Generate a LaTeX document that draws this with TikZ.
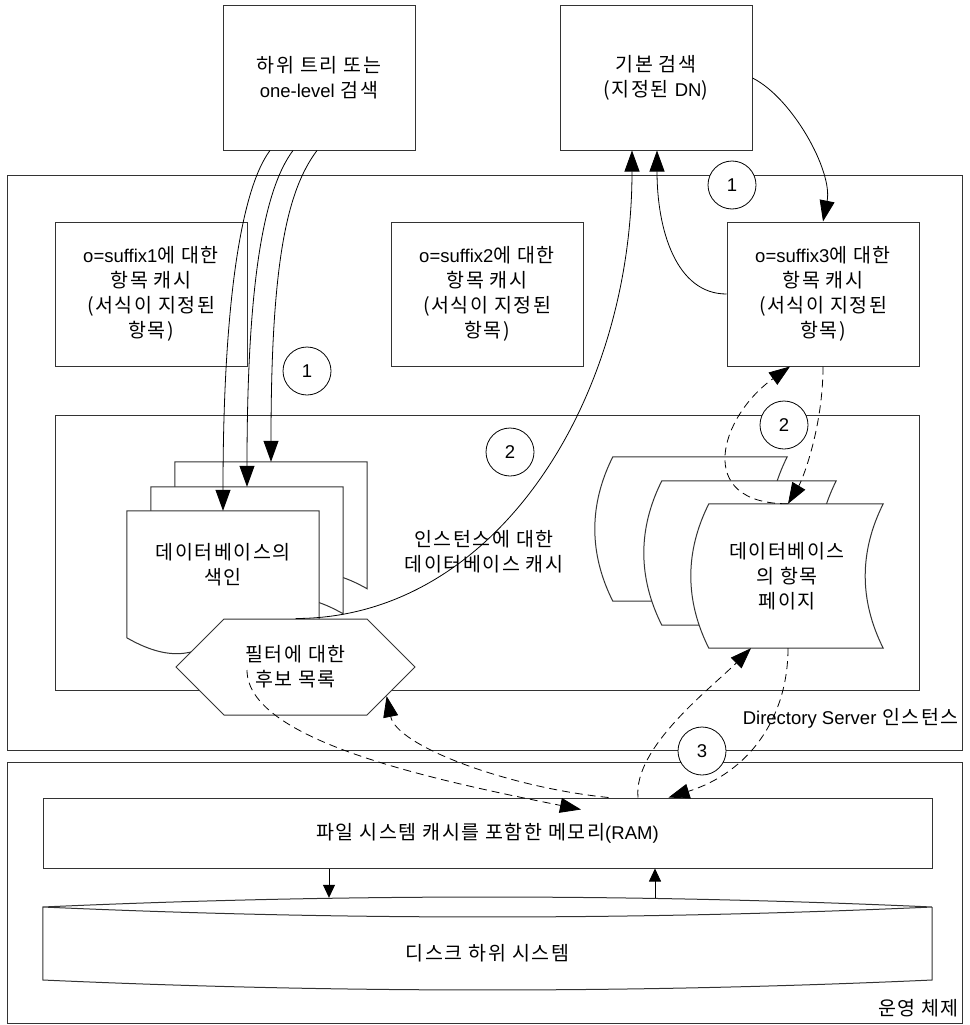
\documentclass[tikz,border=0pt]{standalone}
\usepackage{fontspec}
\setmainfont[LetterSpace=8]{Noto Sans CJK KR}
\newfontfamily\lt{Liberation Sans}
\usetikzlibrary{arrows.meta,shapes.symbols,calc}
\newcommand\dtxt{\fontsize{19.5}{25}\selectfont}
\newcommand\la[1]{{\lt\fontsize{18.5}{25}\selectfont #1}}
\begin{document}
\begin{tikzpicture}[x=1pt,y=-1pt,
  frame/.style={draw=black!80, line width=1pt},
  box/.style={frame, fill=white, minimum width=192pt, minimum height=144pt, inner sep=0pt, align=center, font=\dtxt},
  ghost/.style={draw=none, minimum width=#1, minimum height=144pt, inner sep=0pt},
  shp/.style={frame, fill=white},
  num/.style={circle, draw=black, line width=0.8pt, fill=white, minimum size=48pt, inner sep=0pt, font=\lt\fontsize{18.5}{20}\selectfont},
  con/.style={line width=0.8pt, -{Triangle[length=21pt,width=15pt]}},
  con2/.style={line width=0.8pt, -{Triangle[length=13pt,width=12pt]}},
  dcon/.style={con, dash pattern=on 8pt off 5pt},
  lbl/.style={font=\dtxt, align=center, inner sep=0pt},
]
\useasboundingbox (0,0) rectangle (969,1025);
% containers
\node[frame, minimum width=955pt, minimum height=575pt] (ds) at (484.5,462.5) {};
\node[frame, minimum width=955pt, minimum height=261pt] (os) at (484.5,892.5) {};
% top boxes
\node[box] (top1) at (319,78) {하위 트리 또는\\\la{one-level} 검색};
\node[box] (top2) at (656,78) {기본 검색\\(지정된 \la{DN})};
% entry caches
\node[box] (c1) at (151,294) {\la{o=suffix1}에 대한\\항목 캐시\\(서식이 지정된\\항목)};
\node[box] (c2) at (487,294) {\la{o=suffix2}에 대한\\항목 캐시\\(서식이 지정된\\항목)};
\node[box] (c3) at (823,294) {\la{o=suffix3}에 대한\\항목 캐시\\(서식이 지정된\\항목)};
% database cache
\node[frame, minimum width=864pt, minimum height=275pt] (dbc) at (487,552.5) {};
% index documents
\foreach \n/\cx/\cy in {3/271/534, 2/247/559, 1/223/583}{
  \node[ghost=192pt] (idx\n) at (\cx,\cy) {};
  \draw[shp] (idx\n.north west) -- (idx\n.north east) -- ($(idx\n.north east)+(0,127)$)
     .. controls +(-96,-55) and +(96,55) .. ($(idx\n.north west)+(0,127)$) -- cycle;
}
% entry pages
\foreach \n/\cx/\cy in {3/700/529, 2/749/553, 1/796/576}{
  \node[ghost=174pt] (ep\n) at (\cx,\cy) {};
  \draw[shp] (ep\n.north west) -- (ep\n.north east) .. controls +(-24,48) and +(-24,-48) .. (ep\n.south east)
     -- (ep\n.south west) .. controls +(-24,-48) and +(-24,48) .. (ep\n.north west) -- cycle;
}
\node[lbl] (idxt) at (223,565) {데이터베이스의\\색인};
\node[lbl] (ept) at (787,576) {데이터베이스\\의 항목\\페이지};
\node[lbl] (dbct) at (484,552) {인스턴스에 대한\\데이터베이스 캐시};
% candidate list hexagon
\node[signal, signal to=west and east, signal pointer angle=90, frame, fill=white,
      minimum width=239pt, minimum height=96pt, inner sep=0pt, align=center, font=\dtxt] (hex) at (295.5,667) {필터에 대한\\후보 목록};
% RAM and disk
\node[frame, minimum width=889pt, minimum height=70pt, font=\dtxt] (ram) at (487.5,833) {파일 시스템 캐시를 포함한 메모리\la{(RAM)}};
\node[draw=none, minimum width=889pt, minimum height=93pt, inner sep=0pt] (disk) at (487.5,943.5) {};
\draw[frame] (disk.north west |- 0,907) .. controls (339,893.7) and (636,893.7) .. (disk.north east |- 0,907)
   .. controls (636,920.3) and (339,920.3) .. (disk.north west |- 0,907) -- (disk.north west |- 0,980)
   .. controls (339,993.3) and (636,993.3) .. (disk.north east |- 0,980) -- (disk.north east |- 0,907);
\node[lbl] (diskt) at (487.5,953) {디스크 하위 시스템};
\draw[con2] ($(ram.south)+(-158.5,0)$) -- ($(disk.north)+(-158.5,1)$);
\draw[con2] ($(disk.north)+(167.5,1)$) -- ($(ram.south)+(167.5,0)$);
% labels
\node[lbl, anchor=east] (dsl) at (959,718) {\la{Directory Server} 인스턴스};
\node[lbl, anchor=east] (osl) at (959,1008) {운영 체제};
% numbered circles
\node[num] (n1a) at (732,185) {1};
\node[num] (n1b) at (307,371) {1};
\node[num] (n2a) at (510,452) {2};
\node[num] (n2b) at (784,425) {2};
\node[num] (n3) at (702,751) {3};
% solid connectors
\foreach \dx/\t in {-49/1, -26/2, -2/3}
  \draw[con] ($(top1.south)+(\dx,0)$) .. controls +(-30,40) and +(0,-200) .. (idx\t.north);
\draw[con] (hex.north) .. controls +(200,0) and +(0,250) .. ($(top2.south)+(-24,0)$);
\draw[con] (c3.west) .. controls +(-50,0) and +(0,80) .. ($(top2.south)+(1,0)$);
\draw[con] (top2.east) .. controls +(40,20) and +(10,-50) .. (c3.north);
% dashed connectors
\draw[dcon] (c3.south) .. controls +(0,60) and +(15,-25) .. ($(ep1.north)+(-8,0)$);
\draw[dcon] ($(ep1.north)+(-8,0)$) .. controls +(-95,0) and +(-70,50) .. ($(c3.south)+(-33,0)$);
\draw[dcon] ($(ep1.south)+(-8,0)$) .. controls +(0,70) and +(80,-25) .. ($(ram.north)+(181,0)$);
\draw[dcon] ($(ram.north)+(150.5,0)$) .. controls +(-5,-50) and +(-40,40) .. ($(ep1.south)+(-45,0)$);
\draw[dcon] ($(hex.center)+(-48.5,3)$) .. controls +(0,70) and +(-150,-30) .. ($(ram.north)+(93.5,12)$);
\draw[dcon] ($(ram.north)+(121,0)$) .. controls +(-100,-10) and +(10,50) .. ($(hex.east)!0.6!(hex.south east)$);
\end{tikzpicture}
\end{document}
